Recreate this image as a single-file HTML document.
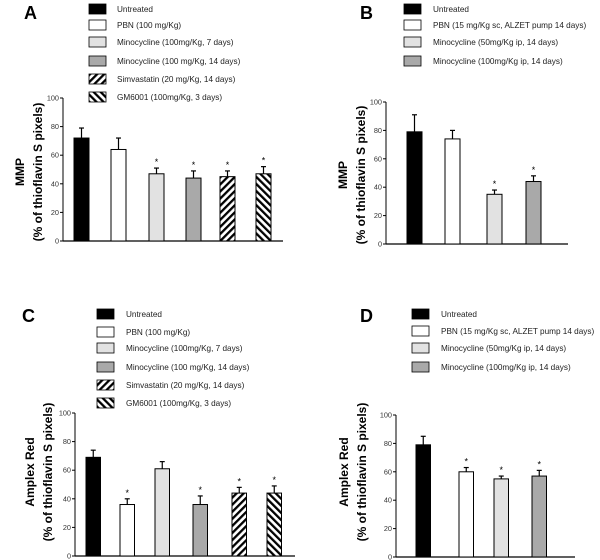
<!DOCTYPE html>
<html><head><meta charset="utf-8">
<style>
html,body{margin:0;padding:0;background:#fff;}
svg{display:block;font-family:"Liberation Sans",sans-serif;}
</style></head>
<body>
<svg id="fig" width="600" height="560" viewBox="0 0 600 560" xmlns="http://www.w3.org/2000/svg">
<defs>
<pattern id="hatchF" patternUnits="userSpaceOnUse" width="5" height="5" patternTransform="rotate(45)">
<rect width="5" height="5" fill="#fff"/><rect width="2.3" height="5" fill="#000"/></pattern>
<pattern id="hatchB" patternUnits="userSpaceOnUse" width="5" height="5" patternTransform="rotate(-45)">
<rect width="5" height="5" fill="#fff"/><rect width="2.3" height="5" fill="#000"/></pattern>
</defs>
</svg>
<script>
// Data
const labelsAC = ["Untreated","PBN  (100 mg/Kg)","Minocycline (100mg/Kg, 7 days)","Minocycline (100 mg/Kg, 14 days)","Simvastatin (20 mg/Kg, 14 days)","GM6001 (100mg/Kg, 3 days)"];
const labelsBD = ["Untreated","PBN (15 mg/Kg sc,  ALZET pump 14 days)","Minocycline (50mg/Kg ip, 14 days)","Minocycline (100mg/Kg ip, 14 days)"];
const valuesA = [72, 64, 47, 44, 45, 47];
const errorsA = [7, 8, 4, 5, 4, 5];
const sigA = [false, false, true, true, true, true];
const valuesB = [79, 74, 35, 44];
const errorsB = [12, 6, 3, 4];
const sigB = [false, false, true, true];
const valuesC = [69, 36, 61, 36, 44, 44];
const errorsC = [5, 4, 5, 6, 4, 5];
const sigC = [false, true, false, true, true, true];
const valuesD = [79, 60, 55, 57];
const errorsD = [6, 3, 2, 4];
const sigD = [false, true, true, true];
const yTicks = [0, 20, 40, 60, 80, 100];
const fillsAC = ["#000","#fff","#e2e2e2","#a9a9a9","url(#hatchF)","url(#hatchB)"];
const fillsBD = ["#000","#fff","#e2e2e2","#a9a9a9"];

const NS = "http://www.w3.org/2000/svg";
const svg = document.getElementById("fig");
function mk(tag, attrs, parent){const e=document.createElementNS(NS,tag);for(const k in attrs)e.setAttribute(k,attrs[k]);(parent||svg).appendChild(e);return e;}

const panels = [
 {id:"a",letter:"A",lx:24,ly:19,title:"MMP",ax:63,y0:241,y100:98,xEnd:283,barX:[74,111,149,186,220,256],bw:15,vals:valuesA,errs:errorsA,sig:sigA,labels:labelsAC,fills:fillsAC,legX:89,legText:117,legY:[9,25,42,61,79,97],t1x:20,t2x:38,tcy:172},
 {id:"b",letter:"B",lx:360,ly:19,title:"MMP",ax:386,y0:244,y100:102,xEnd:568,barX:[407,445,487,526],bw:15,vals:valuesB,errs:errorsB,sig:sigB,labels:labelsBD,fills:fillsBD,legX:404,legText:433,legY:[9,25,42,61],t1x:343,t2x:361,tcy:175},
 {id:"c",letter:"C",lx:22,ly:322,title:"Amplex Red",ax:75,y0:556,y100:413,xEnd:295,barX:[86,120,155,193,232,267],bw:14.5,vals:valuesC,errs:errorsC,sig:sigC,labels:labelsAC,fills:fillsAC,legX:97,legText:126,legY:[314,332,348,367,385,403],t1x:30,t2x:48,tcy:472},
 {id:"d",letter:"D",lx:360,ly:322,title:"Amplex Red",ax:396,y0:557,y100:415,xEnd:575,barX:[416,459,494,532],bw:14.5,vals:valuesD,errs:errorsD,sig:sigD,labels:labelsBD,fills:fillsBD,legX:412,legText:441,legY:[314,331,348,367],t1x:344,t2x:362,tcy:472}
];

panels.forEach(p=>{
  const g = mk("g",{});
  
  
  const yS = v => p.y0 + (p.y100-p.y0)*v/100;
  const L = mk("text",{x:p.lx,y:p.ly,"font-size":18,"font-weight":"bold"},g); L.textContent=p.letter;
  
  
  p.labels.forEach((lab,i)=>{
    const cy=p.legY[i];
    const r=mk("rect",{x:p.legX,y:cy-5,width:17,height:10,fill:p.fills[i],stroke:"#000","stroke-width":0.8},g);
    
    
    const t=mk("text",{x:p.legText,y:cy+3,"font-size":8.2,fill:"#222"},g); t.textContent=lab;
    
    
  });
  const ya=mk("line",{x1:p.ax,y1:p.y100,x2:p.ax,y2:p.y0,stroke:"#000","stroke-width":1},g);
  
  
  const xa=mk("line",{x1:p.ax,y1:p.y0,x2:p.xEnd,y2:p.y0,stroke:"#000","stroke-width":1.2},g);
  
  
  yTicks.forEach(tv=>{
    const y=yS(tv);
    mk("line",{x1:p.ax-3,y1:y,x2:p.ax,y2:y,stroke:"#000","stroke-width":1},g);
    const t=mk("text",{x:p.ax-4,y:y+2.5,"font-size":7.3,"text-anchor":"end",fill:"#333"},g); t.textContent=tv;
    
    
  });
  const t1=mk("text",{x:p.t1x,y:p.tcy,"font-size":12,"font-weight":"bold","text-anchor":"middle",transform:`rotate(-90 ${p.t1x} ${p.tcy})`,dy:4},g); t1.textContent=p.title;
  
  
  const t2=mk("text",{x:p.t2x,y:p.tcy,"font-size":12,"font-weight":"bold","text-anchor":"middle",transform:`rotate(-90 ${p.t2x} ${p.tcy})`,dy:4},g); t2.textContent="(% of thioflavin S pixels)";
  
  
  p.vals.forEach((v,i)=>{
    const x=p.barX[i], top=yS(v), et=yS(v+p.errs[i]), cx=x+p.bw/2;
    const e=mk("line",{x1:cx,y1:top,x2:cx,y2:et,stroke:"#000","stroke-width":1.2},g);
    
    
    mk("line",{x1:cx-2.5,y1:et,x2:cx+2.5,y2:et,stroke:"#000","stroke-width":1.2},g);
    const b=mk("rect",{x:x,y:top,width:p.bw,height:p.y0-top,fill:p.fills[i],stroke:"#000","stroke-width":1},g);
    
    
    if(p.sig[i]){
      const s=mk("text",{x:cx,y:et-3,"font-size":9,"text-anchor":"middle"},g); s.textContent="*";
      
      
    }
  });
});
</script>
</body></html>
